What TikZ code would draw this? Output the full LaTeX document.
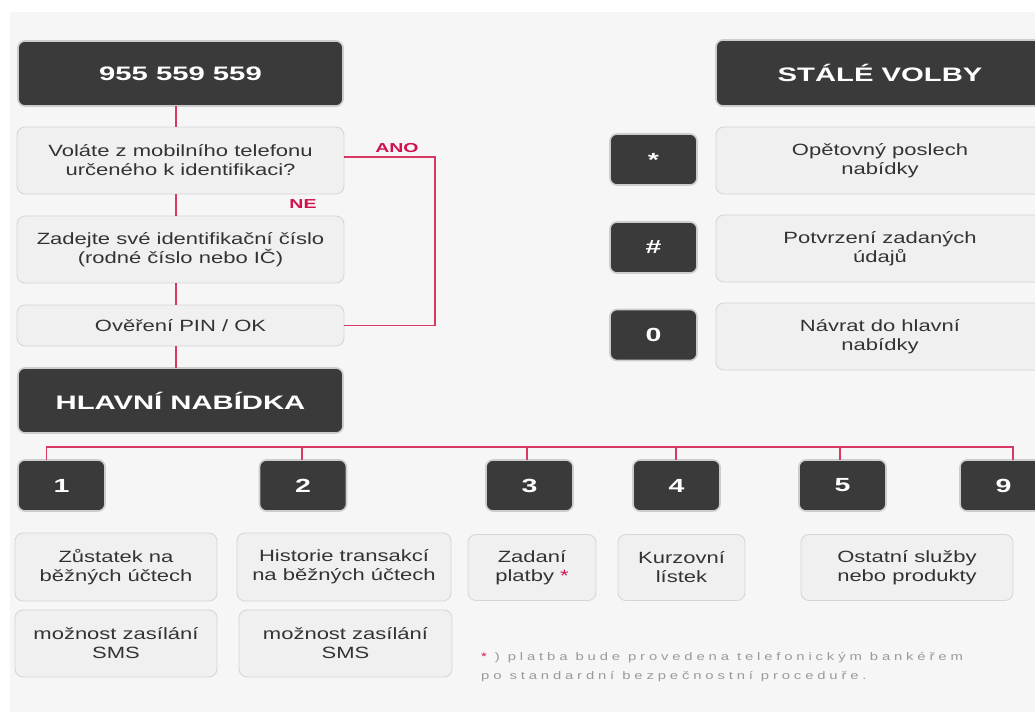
\documentclass[tikz,border=0pt]{standalone}
\usepackage{fontspec}
\setmainfont{Liberation Sans}[FakeStretch=1.35]
\newfontfamily\headfont{Liberation Sans}[FakeStretch=1.5]
\newfontfamily\notefont{Liberation Sans}[FakeStretch=1.35,LetterSpace=35]

\definecolor{pagebg}{HTML}{F6F6F6}
\definecolor{boxdark}{HTML}{3A3A3A}
\definecolor{boxglow}{HTML}{CDCDCD}
\definecolor{boxlight}{HTML}{F0F0F0}
\definecolor{boxline}{HTML}{D6D6D6}
\definecolor{textgray}{HTML}{333333}
\definecolor{notegray}{HTML}{9A9A9A}
\definecolor{linkred}{HTML}{D63A62}
\definecolor{answerred}{HTML}{D0124E}

\begin{document}
\begin{tikzpicture}[x=1pt,y=-1pt,
  darkbox/.style={draw=boxglow, line width=1.6pt, fill=boxdark, rounded corners=7pt,
    text=white, font=\headfont\bfseries\fontsize{19.5}{22}\selectfont,
    inner sep=0pt, outer sep=0pt},
  keybox/.style={darkbox, font=\headfont\bfseries\fontsize{19}{22}\selectfont,
    minimum width=87pt, minimum height=51pt},
  infobox/.style={draw=boxline, line width=0.9pt, fill=boxlight, rounded corners=8pt,
    text=textgray, font=\fontsize{16.3}{19}\selectfont, align=center,
    inner sep=0pt, outer sep=0pt},
  link/.style={draw=linkred, line width=1.6pt},
  answer/.style={text=answerred, font=\headfont\bfseries\fontsize{13}{15}\selectfont,
    inner sep=0pt},
  note/.style={text=notegray, font=\notefont\fontsize{11}{13}\selectfont,
    inner sep=0pt, anchor=base west},
]
\useasboundingbox (0,0) rectangle (1035,712);
\clip (0,0) rectangle (1035,712);
\fill[white] (0,0) rectangle (1035,712);
\fill[pagebg] (10,12) rectangle (1035,712);

% --- call flow column ---
\node[darkbox, minimum width=325pt, minimum height=65pt] (call) at (180.5,73.5) {955 559 559};
\node[infobox, minimum width=327pt, minimum height=67pt] (mobile) at (180.5,160.5)
  {Voláte z mobilního telefonu\\určeného k identifikaci?};
\node[infobox, minimum width=327pt, minimum height=67pt] (idnum) at (180.5,249.5)
  {Zadejte své identifikační číslo\\(rodné číslo nebo IČ)};
\node[infobox, minimum width=327pt, minimum height=41pt] (pin) at (180.5,325.5)
  {Ověření PIN / OK};
\node[darkbox, minimum width=325pt, minimum height=65pt] (menu) at (180.5,400.5) {HLAVNÍ NABÍDKA};

\coordinate (spine) at (175.7,0);
\draw[link] (call.south -| spine) -- (mobile.north -| spine);
\draw[link] (mobile.south -| spine) -- (idnum.north -| spine);
\draw[link] (idnum.south -| spine) -- (pin.north -| spine);
\draw[link] (pin.south -| spine) -- (menu.north -| spine);

\coordinate (yesturn) at (435,157);
\draw[link] ([yshift=3.5pt]mobile.east) -- (yesturn) |- (pin.east);
\node[answer] (yes) at (397,148) {ANO};
\node[answer] (no) at (303,204) {NE};

% --- permanent options ---
\node[darkbox, minimum width=328pt, minimum height=66pt] (perm) at (880,73) {STÁLÉ VOLBY};
\node[keybox] (kstar) at (653.5,159.5) {*};
\node[infobox, minimum width=328pt, minimum height=67pt] (repeat) at (880,160.5)
  {Opětovný poslech\\nabídky};
\node[keybox] (khash) at (653.5,247.5) {\#};
\node[infobox, minimum width=328pt, minimum height=67pt] (confirm) at (880,248.5)
  {Potvrzení zadaných\\údajů};
\node[keybox] (kzero) at (653.5,335) {0};
\node[infobox, minimum width=328pt, minimum height=67pt] (back) at (880,336.5)
  {Návrat do hlavní\\nabídky};

% --- main menu keys, hung from one bar ---
\node[keybox] (k1) at (61.5,485.5) {1};
\node[keybox] (k2) at (303,485.5) {2};
\node[keybox] (k3) at (529.5,485.5) {3};
\node[keybox] (k4) at (676.5,485.5) {4};
\node[keybox] (k5) at (842.5,485.5) {5};
\node[keybox] (k9) at (1003.5,485.5) {9};

\coordinate (b1) at (46.5,447);
\coordinate (b2) at (302,447);
\coordinate (b3) at (527,447);
\coordinate (b4) at (676,447);
\coordinate (b5) at (840,447);
\coordinate (b9) at (1013,447);
\draw[link] (k1.north -| b1) -- (b1) -- (b9) -- (k9.north -| b9);
\foreach \b/\k in {b2/k2,b3/k3,b4/k4,b5/k5}
  \draw[link] (\b) -- (\k.north -| \b);

% --- menu item descriptions ---
\node[infobox, minimum width=202pt, minimum height=68pt] (balance) at (116,567)
  {Zůstatek na\\běžných účtech};
\node[infobox, minimum width=214pt, minimum height=68pt] (history) at (344,567)
  {Historie transakcí\\na běžných účtech};
\node[infobox, minimum width=128pt, minimum height=66pt] (payment) at (532,567.5)
  {Zadaní\\platby \textcolor{answerred}{*}};
\node[infobox, minimum width=127pt, minimum height=66pt] (rates) at (681.5,567.5)
  {Kurzovní\\lístek};
\node[infobox, minimum width=212pt, minimum height=66pt] (other) at (907,567.5)
  {Ostatní služby\\nebo produkty};
\node[infobox, minimum width=202pt, minimum height=67pt] (sms1) at (116,643.5)
  {možnost zasílání\\SMS};
\node[infobox, minimum width=213pt, minimum height=67pt] (sms2) at (345.5,643.5)
  {možnost zasílání\\SMS};

% --- footnote ---
\node[note] (fn1) at (481,660)
  {\textcolor{answerred}{*} ) platba bude provedena telefonickým bankéřem};
\node[note] (fn2) at (481,679) {po standardní bezpečnostní proceduře.};
\end{tikzpicture}
\end{document}
